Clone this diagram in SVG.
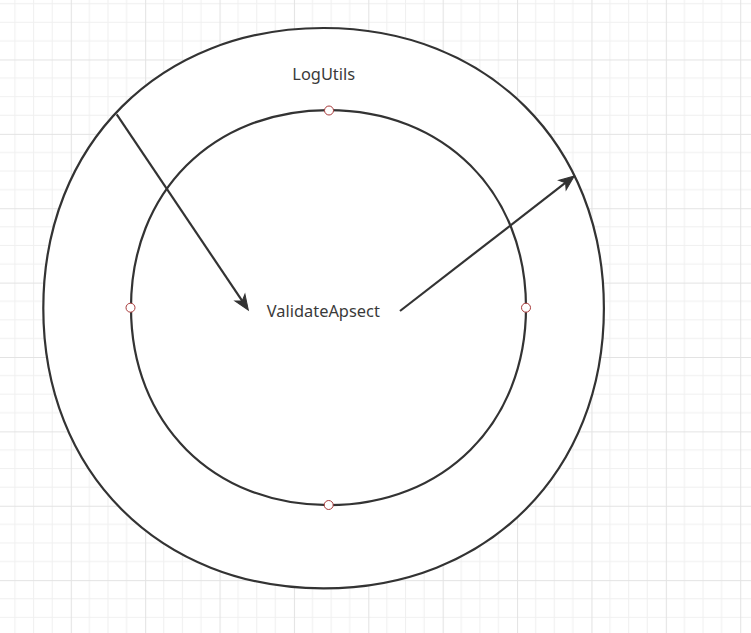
<svg xmlns="http://www.w3.org/2000/svg" width="751" height="633" viewBox="0 0 751 633">
  <style>
    .shape { fill: #ffffff; stroke: #333333; stroke-width: 2.2; }
    .label { font-family: "Noto Sans", "Liberation Sans", sans-serif; font-size: 16.4px; fill: #3a3a3a; text-anchor: middle; }
    .pt { fill: #ffffff; stroke: #a83a3a; stroke-width: 1; }
    .edge { fill: none; stroke: #333333; stroke-width: 2.2; marker-end: url(#arrow); }
  </style>
  <defs>
    <pattern id="grid" patternUnits="userSpaceOnUse" x="-3.6" y="-14.9" width="74.38" height="74.38">
      <rect width="74.38" height="74.38" fill="#ffffff"/>
      <path d="M18.6,0V74.38M37.2,0V74.38M55.8,0V74.38M0,18.6H74.38M0,37.2H74.38M0,55.8H74.38" stroke="#f0f0f0" stroke-width="1"/>
      <path d="M0.5,0V74.38M0,0.5H74.38" stroke="#e3e3e3" stroke-width="1"/>
    </pattern>
    <marker id="arrow" markerUnits="userSpaceOnUse" markerWidth="20" markerHeight="20" refX="0" refY="0" orient="auto" overflow="visible">
      <path d="M11,0 L-4,-6 L0,0 L-4,6 Z" fill="#333333" stroke="#333333" stroke-width="1"/>
    </marker>
  </defs>
  <rect width="751" height="633" fill="url(#grid)"/>
  <g id="logutils">
    <path class="shape" d="M43.3,308.2 C43.3,144.3 159.7,28 323.6,28 C487.5,28 603.9,144.3 603.9,308.2 C603.9,472.1 487.5,588.4 323.6,588.4 C159.7,588.4 43.3,472.1 43.3,308.2 Z"/>
    <text class="label" x="323.7" y="80.3">LogUtils</text>
  </g>
  <g id="validateapsect">
    <path class="shape" d="M131,307.6 C131,192.1 213,110.1 328.5,110.1 C444,110.1 526,192.1 526,307.6 C526,423.1 444,505.1 328.5,505.1 C213,505.1 131,423.1 131,307.6 Z"/>
    <text class="label" x="323.3" y="316.8">ValidateApsect</text>
    <circle class="pt" cx="329" cy="110.5" r="4.5"/>
    <circle class="pt" cx="130.5" cy="307.7" r="4.5"/>
    <circle class="pt" cx="526" cy="307.7" r="4.5"/>
    <circle class="pt" cx="328.7" cy="505" r="4.5"/>
  </g>
  <g id="connectors">
    <path class="edge" d="M116.7,114.3 L242.2,300.9"/>
    <path class="edge" d="M400,311 L565.6,182.7"/>
  </g>
</svg>
